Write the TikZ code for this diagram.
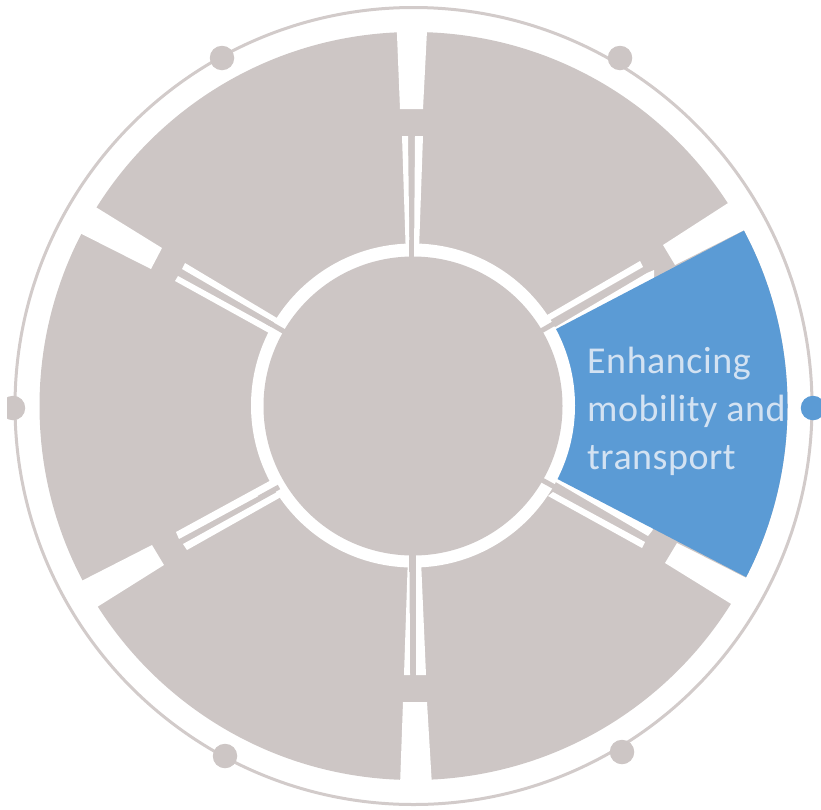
\documentclass[tikz,border=0pt]{standalone}
\usepackage{fontspec}
\setmainfont{Carlito}
\newfontfamily\labelfont[LetterSpace=1.4]{Carlito}
\definecolor{wheelgrey}{HTML}{CDC6C5}
\definecolor{ringgrey}{HTML}{D2CBCA}
\definecolor{wheelblue}{HTML}{5B9BD5}
\definecolor{labelblue}{HTML}{D3E2F2}
\tikzset{
  gap/.style={fill=white,draw=none},
  stem/.style={draw=wheelgrey,line cap=butt},
  dot/.style={circle,fill=#1,draw=none,minimum size=24.5pt,inner sep=0pt},
}
\begin{document}
\begin{tikzpicture}[x=1pt,y=-1pt]
\clip (0,0) rectangle (821,809);
% grey wheel
\fill[wheelgrey] (413.5,406) circle[radius=374];
% outer notches
\fill[gap] (400,109) -- (423,109) -- (427.3,25) -- (396.6,25) -- cycle;
\fill[gap] (403,702) -- (427,702) -- (432,786) -- (400,786) -- cycle;
\fill[gap] (663,245) -- (675,265) -- (770,217) -- (770,176) -- cycle;
\fill[gap] (677,543) -- (665,563) -- (775,631) -- (790,600) -- cycle;
\fill[gap] (162,248) -- (151,269) -- (50,218) -- (60,185) -- cycle;
\fill[gap] (152,545) -- (164,565) -- (70,624) -- (50,597) -- cycle;
% paired slits
\fill[gap] (402,136) -- (408,136) -- (409.5,258) -- (406,258) -- cycle;
\fill[gap] (415,136) -- (423,136) -- (419,250) -- (414,258) -- cycle;
\fill[gap] (404,675) -- (410,675) -- (409.5,555) -- (408,555) -- cycle;
\fill[gap] (416,675) -- (426,675) -- (421,560) -- (416,555) -- cycle;
\fill[gap] (640,261) -- (643,267) -- (545,323) -- (542,318) -- cycle;
\fill[gap] (647,273) -- (654,270) -- (654,283) -- (555,335) -- (547,332) -- cycle;
\fill[gap] (549,478) -- (560,474) -- (655,525) -- (652,531) -- (648,536) -- cycle;
\fill[gap] (553,492) -- (645,542) -- (642,548) -- (548,496) -- cycle;
\fill[gap] (185,263) -- (277,318) -- (282,327) -- (182,269) -- cycle;
\fill[gap] (178,276) -- (280,332) -- (269,333) -- (175,281) -- cycle;
\fill[gap] (176,532) -- (275,478) -- (277,486) -- (179,539) -- cycle;
\fill[gap] (183,544) -- (277,492) -- (281,497) -- (187,550) -- cycle;
% highlighted blue sector
\begin{scope}
  \clip (413,404) -- (790,206.5) -- (815,300) -- (815,520) -- (800,605) -- cycle;
  \fill[wheelblue] (413.5,406) circle[radius=374];
\end{scope}
% white ring and hub
\fill[white] (413,405.5) circle[radius=162];
\fill[wheelgrey] (413,406) circle[radius=149.5];
% stems crossing the white ring
\draw[stem,line width=5pt] (411.5,240) -- (411.5,262);
\draw[stem,line width=7pt] (412.5,550) -- (412.5,572);
\draw[stem,line width=5pt] (541,331) -- (561,319.5);
\draw[stem,line width=5pt] (542,480) -- (562,491);
\draw[stem,line width=5pt] (279,487) -- (259,498);
\draw[stem,line width=5pt] (284,331.5) -- (265,320.5);
% outer thin ring
\draw[ringgrey,line width=3pt] (413.5,406) circle[radius=398.5];
% dots
\node[dot=wheelgrey] (dotA) at (222,58) {};
\node[dot=wheelgrey] (dotB) at (620,58) {};
\node[dot=wheelgrey] (dotC) at (13,408) {};
\node[dot=wheelgrey] (dotD) at (225,756) {};
\node[dot=wheelgrey] (dotE) at (622,752) {};
\node[dot=wheelblue] (dotF) at (813,408) {};
\fill[white] (0,390) rectangle (7,426);
% label
\node[anchor=base west,inner sep=0pt,align=left,text=labelblue,
      font=\labelfont\fontsize{38pt}{48pt}\selectfont] (label) at (587,469)
  {Enhancing\\mobility and\\transport};
\end{tikzpicture}
\end{document}
